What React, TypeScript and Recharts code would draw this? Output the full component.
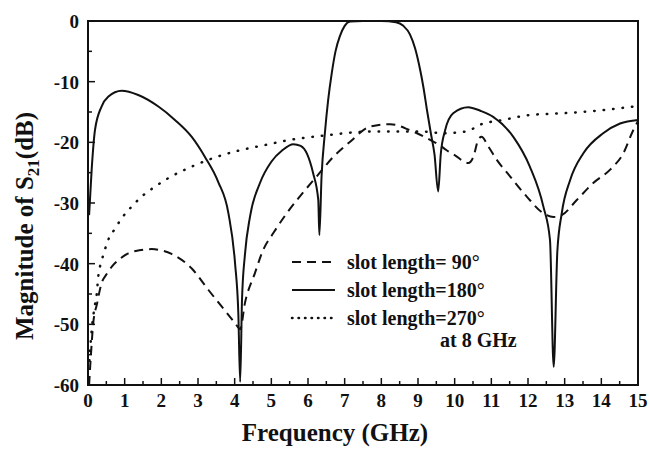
import React from 'react';
import { LineChart, Line, XAxis, YAxis, ReferenceArea, Legend } from 'recharts';

// Frequency (GHz) / magnitude (dB) for each slot length
const freq90 = [0.03, 0.08, 0.14, 0.25, 0.37, 0.5, 0.65, 0.85, 1.1, 1.4, 1.74, 2.0, 2.28, 2.83, 3.28, 3.65, 4.01, 4.15, 4.28, 4.55, 4.78, 5.05, 5.42, 5.78, 6.24, 6.69, 7.15, 7.69, 8.24, 8.78, 9.33, 9.55, 9.78, 10.0, 10.37, 10.51, 10.64, 10.73, 10.92, 11.15, 11.51, 11.96, 12.42, 12.7, 12.92, 13.33, 13.78, 14.24, 14.6, 14.87, 15];
const mag90 = [-60, -55, -50, -46.5, -43.2, -41.8, -40.5, -39.3, -38.3, -37.8, -37.6, -37.8, -38.4, -40.8, -44.3, -47.1, -49.8, -50.8, -46.5, -41.6, -37.7, -35, -31.7, -28.9, -25.6, -22.4, -19.9, -17.4, -17.0, -18, -19.6, -20.3, -21.3, -22.1, -23.4, -22.4, -19.6, -19.1, -20.7, -22.9, -25.6, -28.9, -31.7, -32.3, -32, -29.5, -26.7, -24.5, -21.8, -18, -16.5];

const freq180 = [0.03, 0.1, 0.19, 0.37, 0.55, 0.92, 1.37, 1.92, 2.37, 2.83, 3.19, 3.55, 3.83, 4.01, 4.1, 4.15, 4.2, 4.28, 4.42, 4.69, 5.0, 5.3, 5.6, 5.8, 5.98, 6.14, 6.28, 6.31, 6.37, 6.46, 6.55, 6.65, 6.75, 6.87, 7.0, 7.15, 7.5, 8.0, 8.4, 8.6, 8.78, 8.92, 9.05, 9.15, 9.24, 9.35, 9.45, 9.55, 9.62, 9.74, 9.96, 10.37, 10.7, 11.05, 11.6, 12.05, 12.42, 12.6, 12.7, 12.8, 12.92, 13.15, 13.51, 14.05, 14.51, 15];
const mag180 = [-32, -24.5, -18, -14.1, -12.5, -11.5, -12.2, -14.1, -16.3, -19.1, -22.4, -26.5, -31.7, -39.9, -48.2, -59.5, -46, -38.5, -32.2, -26.7, -23.2, -21.3, -20.3, -20.6, -22, -25.1, -29.5, -35.3, -25.6, -18.5, -13, -8.5, -5, -2.5, -0.8, -0.1, 0, 0, -0.2, -0.8, -2.2, -4.5, -7.8, -11, -14.5, -18.5, -22, -28.1, -22, -18, -15.2, -14.2, -14.8, -15.8, -19.1, -24, -30.6, -36.1, -57, -38, -31.7, -26.2, -21.8, -18.5, -16.9, -16.3];

const freq270 = [0.04, 0.1, 0.17, 0.24, 0.28, 0.37, 0.46, 0.55, 0.74, 0.92, 1.19, 1.51, 1.83, 2.19, 2.83, 3.46, 4.15, 4.78, 5.51, 6.42, 7.78, 9.05, 9.69, 10.33, 10.69, 11.33, 12.05, 12.96, 13.87, 15];
const mag270 = [-56, -51, -47.5, -44.9, -42.1, -39.6, -37.7, -36.1, -34.2, -32.5, -30.6, -28.7, -27.3, -25.9, -24, -22.5, -21.3, -20.5, -19.6, -18.9, -18.2, -18.2, -18.5, -18.2, -17.1, -16.3, -15.5, -15.2, -14.8, -14];

const seriesNames = ['slot length= 90°', 'slot length=180°', 'slot length=270°'];
const legendNote = 'at 8 GHz';

const xTicks = [0, 0.5, 1, 1.5, 2, 2.5, 3, 3.5, 4, 4.5, 5, 5.5, 6, 6.5, 7, 7.5, 8, 8.5, 9, 9.5, 10, 10.5, 11, 11.5, 12, 12.5, 13, 13.5, 14, 14.5, 15];
const yTicks = [-60, -55, -50, -45, -40, -35, -30, -25, -20, -15, -10, -5, 0];

const xLabel = 'Frequency (GHz)';
const yLabelMain = 'Magnitude of S';
const yLabelSub = '21';
const yLabelTail = '(dB)';

const zip = (xs: number[], ys: number[]) => xs.map((x, i) => ({ f: x, v: ys[i] }));
const data90 = zip(freq90, mag90);
const data180 = zip(freq180, mag180);
const data270 = zip(freq270, mag270);

const FONT = '"Liberation Serif", "Times New Roman", serif';
const INK = '#111';

const XTick = (props: any) => {
  const { x, y, payload } = props;
  const v = payload.value;
  const major = Number.isInteger(v);
  return (
    <g>
      <line x1={x} y1={y} x2={x} y2={y - (major ? 7 : 4)} stroke={INK} strokeWidth={1.5} />
      {major && (
        <text x={x} y={y + 22} textAnchor="middle" fontFamily={FONT} fontWeight="bold" fontSize={19} fill={INK}>
          {v}
        </text>
      )}
    </g>
  );
};

const YTick = (props: any) => {
  const { x, y, payload } = props;
  const v = payload.value;
  const major = v % 10 === 0;
  return (
    <g>
      <line x1={x} y1={y} x2={x + (major ? 7 : 4)} y2={y} stroke={INK} strokeWidth={1.5} />
      {major && (
        <text x={x - 9} y={y + 7} textAnchor="end" fontFamily={FONT} fontWeight="bold" fontSize={19} fill={INK}>
          {v}
        </text>
      )}
    </g>
  );
};

const XLabel = (props: any) => {
  const vb = props.viewBox;
  const cx = vb.x + vb.width / 2 - 28;
  return (
    <text x={cx} y={vb.y + 56} textAnchor="middle" fontFamily={FONT} fontWeight="bold" fontSize={25} fill={INK}>
      {xLabel}
    </text>
  );
};

const YLabel = (props: any) => {
  const vb = props.viewBox;
  const cx = 33;
  const cy = vb.y + vb.height / 2 + 23;
  return (
    <text x={cx} y={cy} transform={`rotate(-90 ${cx} ${cy})`} textAnchor="middle" fontFamily={FONT} fontWeight="bold" fontSize={25} fill={INK}>
      {yLabelMain}
      <tspan fontSize={17} dy={6}>{yLabelSub}</tspan>
      <tspan dy={-6}>{yLabelTail}</tspan>
    </text>
  );
};

const dashes = ['9 6', undefined, '0.5 6'];

const LegendContent = () => (
  <svg width={240} height={112} style={{ display: 'block' }}>
    {seriesNames.map((name, i) => {
      const ly = 17 + i * 28;
      return (
        <g key={name}>
          <line x1={7} x2={50} y1={ly} y2={ly} stroke={INK} strokeWidth={i === 2 ? 2.5 : 2} strokeDasharray={dashes[i]} strokeLinecap={i === 2 ? 'round' : 'butt'} />
          <text x={62} y={ly + 7} fontFamily={FONT} fontWeight="bold" fontSize={20} fill={INK}>{name}</text>
        </g>
      );
    })}
    <text x={155} y={102} fontFamily={FONT} fontWeight="bold" fontSize={20} fill={INK}>{legendNote}</text>
  </svg>
);

export default function App() {
  return (
    <div style={{ position: 'absolute', left: 0, top: 0, width: 650, height: 451, background: '#fff' }}>
      <LineChart width={650} height={451} margin={{ top: 21, right: 12, left: 0, bottom: 0 }}>
        <XAxis
          dataKey="f"
          type="number"
          domain={[0, 15]}
          ticks={xTicks}
          interval={0}
          tickSize={0}
          tickMargin={0}
          tickLine={false}
          tick={<XTick />}
          height={66}
          axisLine={{ stroke: INK, strokeWidth: 2 }}
          allowDataOverflow
          label={<XLabel />}
        />
        <YAxis
          type="number"
          domain={[-60, 0]}
          ticks={yTicks}
          interval={0}
          tickSize={0}
          tickMargin={0}
          tickLine={false}
          tick={<YTick />}
          width={88}
          axisLine={{ stroke: INK, strokeWidth: 2 }}
          allowDataOverflow
          label={<YLabel />}
        />
        <ReferenceArea x1={0} x2={15} y1={-60} y2={0} fill="none" stroke={INK} strokeWidth={2} fillOpacity={0} ifOverflow="visible" />
        <Line data={data90} dataKey="v" name={seriesNames[0]} type="monotone" stroke={INK} strokeWidth={2} strokeDasharray="9 6" dot={false} isAnimationActive={false} />
        <Line data={data180} dataKey="v" name={seriesNames[1]} type="monotone" stroke={INK} strokeWidth={2} dot={false} isAnimationActive={false} />
        <Line data={data270} dataKey="v" name={seriesNames[2]} type="monotone" stroke={INK} strokeWidth={2.5} strokeDasharray="0.5 9" strokeLinecap="round" dot={false} isAnimationActive={false} />
        <Legend
          layout="vertical"
          verticalAlign="middle"
          align="center"
          content={<LegendContent />}
          wrapperStyle={{ position: 'absolute', left: 285, top: 245, width: 240, height: 112 }}
        />
      </LineChart>
    </div>
  );
}
